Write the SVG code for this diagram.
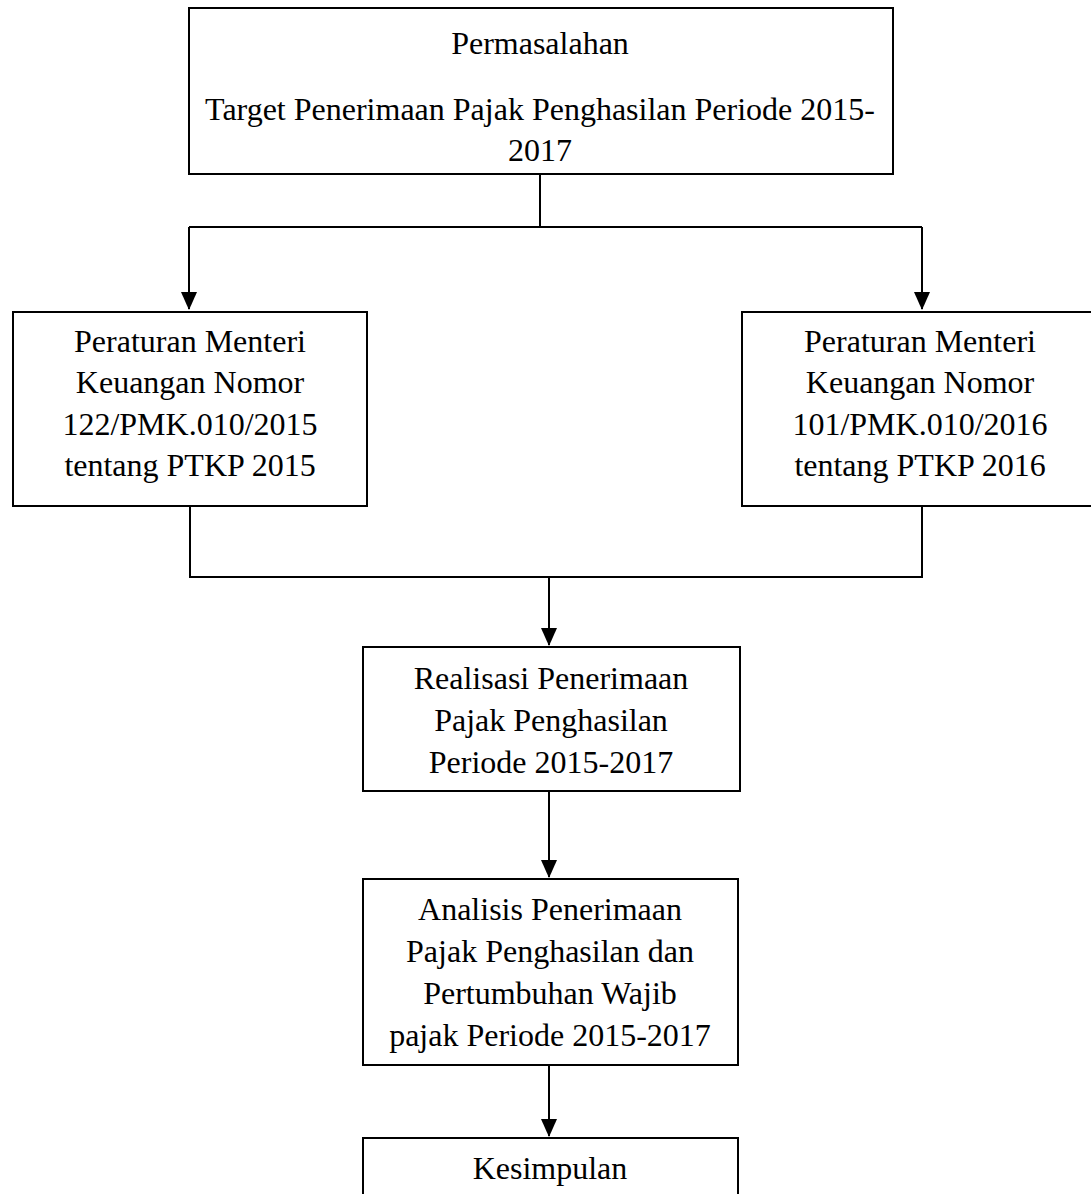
<svg xmlns="http://www.w3.org/2000/svg" width="1091" height="1194" viewBox="0 0 1091 1194">
<defs>
<style>
.box{fill:#fff;stroke:#000;stroke-width:2}
.t{font-family:"Liberation Serif","Times New Roman",serif;font-size:32px;fill:#000;text-anchor:middle}
.c{fill:none;stroke:#000;stroke-width:2}
</style>
<marker id="ah" markerUnits="userSpaceOnUse" markerWidth="18" markerHeight="16" viewBox="0 0 18 16" refX="17" refY="8" orient="auto">
<path d="M0,0 L18,8 L0,16 Z" fill="#000"/>
</marker>
</defs>
<rect width="1091" height="1194" fill="#fff"/>
<g id="connectors">
<path class="c" d="M540,174 V227"/>
<path class="c" d="M189,227 H922"/>
<path class="c" d="M189,227 V309" marker-end="url(#ah)"/>
<path class="c" d="M922,227 V309" marker-end="url(#ah)"/>
<path class="c" d="M190,506 V577 H922 V506"/>
<path class="c" d="M549,577 V645" marker-end="url(#ah)"/>
<path class="c" d="M549,791 V877" marker-end="url(#ah)"/>
<path class="c" d="M549,1065 V1136" marker-end="url(#ah)"/>
</g>
<g id="permasalahan">
<rect class="box" x="189" y="8" width="704" height="166"/>
<text class="t" x="540" y="54">Permasalahan</text>
<text class="t" x="540" y="120">Target Penerimaan Pajak Penghasilan Periode 2015-</text>
<text class="t" x="540" y="161">2017</text>
</g>
<g id="pmk2015">
<rect class="box" x="13" y="312" width="354" height="194"/>
<text class="t" x="190" y="352">Peraturan Menteri</text>
<text class="t" x="190" y="393">Keuangan Nomor</text>
<text class="t" x="190" y="435">122/PMK.010/2015</text>
<text class="t" x="190" y="476">tentang PTKP 2015</text>
</g>
<g id="pmk2016">
<rect class="box" x="742" y="312" width="356" height="194"/>
<text class="t" x="920" y="352">Peraturan Menteri</text>
<text class="t" x="920" y="393">Keuangan Nomor</text>
<text class="t" x="920" y="435">101/PMK.010/2016</text>
<text class="t" x="920" y="476">tentang PTKP 2016</text>
</g>
<g id="realisasi">
<rect class="box" x="363" y="647" width="377" height="144"/>
<text class="t" x="551" y="689">Realisasi Penerimaan</text>
<text class="t" x="551" y="731">Pajak Penghasilan</text>
<text class="t" x="551" y="773">Periode 2015-2017</text>
</g>
<g id="analisis">
<rect class="box" x="363" y="879" width="375" height="186"/>
<text class="t" x="550" y="920">Analisis Penerimaan</text>
<text class="t" x="550" y="962">Pajak Penghasilan dan</text>
<text class="t" x="550" y="1004">Pertumbuhan Wajib</text>
<text class="t" x="550" y="1046">pajak Periode 2015-2017</text>
</g>
<g id="kesimpulan">
<rect class="box" x="363" y="1138" width="375" height="80"/>
<text class="t" x="550" y="1179">Kesimpulan</text>
</g>
</svg>
